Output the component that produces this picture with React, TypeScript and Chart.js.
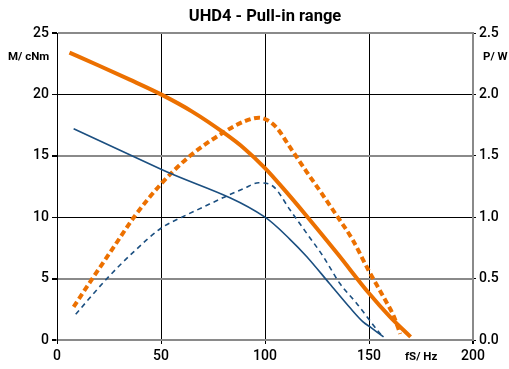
import React, { useEffect, useRef } from "react";
import { Chart, registerables } from "chart.js";

Chart.register(...registerables);

// Torque M (cNm), left axis
const mOrangeHz = [6, 20, 35, 50, 65, 80, 90, 100, 110, 120, 135, 150, 160, 170];
const mOrangeVal = [23.4, 22.35, 21.2, 20.0, 18.6, 16.9, 15.6, 14.0, 12.1, 10.1, 7.0, 3.8, 1.9, 0.25];

const mBlueHz = [8, 50, 100, 112, 120, 131, 141, 147, 151, 157];
const mBlueVal = [17.2, 13.9, 10.0, 8.2, 6.8, 4.6, 2.6, 1.5, 1.0, 0.25];

// Power P (W), right axis
const pOrangeHz = [8, 17, 27, 37, 50, 64, 80, 90, 97, 105, 112, 120, 127, 135, 142, 150, 157, 162, 165];
const pOrangeVal = [0.27, 0.5, 0.75, 1.0, 1.27, 1.5, 1.69, 1.78, 1.81, 1.74, 1.57, 1.37, 1.2, 1.0, 0.82, 0.56, 0.35, 0.19, 0.05];

const pBlueHz = [9, 24, 37, 50, 60, 70, 80, 90, 97, 104, 112, 120, 128, 136, 144, 149, 154, 156];
const pBlueVal = [0.21, 0.5, 0.72, 0.91, 1.0, 1.08, 1.16, 1.235, 1.28, 1.25, 1.06, 0.87, 0.68, 0.46, 0.3, 0.19, 0.08, 0.04];

const xTicks = [0, 50, 100, 150, 200];
const yTicks = [0, 5, 10, 15, 20, 25];
const y2Ticks = [0, 0.5, 1.0, 1.5, 2.0, 2.5];

const TITLE = "UHD4 - Pull-in range";
const Y_TITLE = "M/ cNm";
const Y2_TITLE = "P/ W";
const X_TITLE = "fS/ Hz";

const ORANGE = "#EC7000";
const BLUE = "#1B4F80";
const GRAY = "#8a8a8a";
const FONT = "Roboto";

const zip = (xs: number[], ys: number[]) => xs.map((x, i) => ({ x, y: ys[i] }));

const textPlugin = {
  id: "texts",
  afterDraw(chart: any) {
    const ctx = chart.ctx;
    ctx.save();
    ctx.fillStyle = "#000";
    ctx.textBaseline = "middle";
    ctx.font = `bold 16.5px ${FONT}`;
    ctx.textAlign = "center";
    ctx.fillText(TITLE, 265, 17);
    ctx.font = `bold 11.5px ${FONT}`;
    ctx.textAlign = "left";
    ctx.fillText(Y_TITLE, 8, 57);
    ctx.fillText(Y2_TITLE, 483, 57);
    ctx.fillText(X_TITLE, 405, 357);
    ctx.restore();
  },
};

export default function App() {
  const ref = useRef<HTMLCanvasElement>(null);
  useEffect(() => {
    if (!ref.current) return;
    const tickFont = { family: FONT, size: 14, weight: 500 as any };
    const chart = new Chart(ref.current, {
      type: "line",
      data: {
        datasets: [
          {
            data: zip(pBlueHz, pBlueVal),
            yAxisID: "y2",
            borderColor: BLUE,
            borderWidth: 1.6,
            borderDash: [5, 4],
            pointRadius: 0,
            cubicInterpolationMode: "monotone",
          },
          {
            data: zip(mBlueHz, mBlueVal),
            yAxisID: "y",
            borderColor: BLUE,
            borderWidth: 1.6,
            pointRadius: 0,
            cubicInterpolationMode: "monotone",
          },
          {
            data: zip(pOrangeHz, pOrangeVal),
            yAxisID: "y2",
            borderColor: ORANGE,
            borderWidth: 4,
            borderDash: [6, 3.5],
            pointRadius: 0,
            cubicInterpolationMode: "monotone",
          },
          {
            data: zip(mOrangeHz, mOrangeVal),
            yAxisID: "y",
            borderColor: ORANGE,
            borderWidth: 4,
            pointRadius: 0,
            cubicInterpolationMode: "monotone",
          },
        ],
      },
      options: {
        animation: false,
        responsive: false,
        layout: { padding: { top: 33, left: 0, right: 0, bottom: 0 } },
        plugins: { legend: { display: false }, tooltip: { enabled: false }, title: { display: false } },
        scales: {
          x: {
            type: "linear",
            min: 0,
            max: 200,
            afterBuildTicks: (s: any) => {
              s.ticks = xTicks.map((v) => ({ value: v }));
            },
            afterFit: (s: any) => {
              s.height = 29;
            },
            ticks: { color: "#000", font: tickFont, padding: 4, maxRotation: 0 },
            grid: {
              color: (c: any) => (c.tick && c.tick.value === 200 ? GRAY : "#000"),
              lineWidth: (c: any) => (c.tick && c.tick.value === 200 ? 2 : 1),
              tickColor: "#000",
              tickLength: 4,
            },
            border: { display: true, color: GRAY, width: 2 },
          },
          y: {
            type: "linear",
            position: "left",
            min: 0,
            max: 25,
            afterBuildTicks: (s: any) => {
              s.ticks = yTicks.map((v) => ({ value: v }));
            },
            afterFit: (s: any) => {
              s.width = 57;
            },
            ticks: { color: "#000", font: tickFont, padding: 3 },
            grid: {
              color: (c: any) => (c.tick && c.tick.value % 10 === 0 && c.tick.value !== 0 ? "#000" : GRAY),
              lineWidth: (c: any) => (c.tick && c.tick.value % 10 === 0 && c.tick.value !== 0 ? 1 : 2),
              tickColor: "#000",
              tickLength: 5,
            },
            border: { display: true, color: "#000", width: 1 },
          },
          y2: {
            type: "linear",
            position: "right",
            min: 0,
            max: 2.5,
            afterBuildTicks: (s: any) => {
              s.ticks = y2Ticks.map((v) => ({ value: v }));
            },
            afterFit: (s: any) => {
              s.width = 36;
            },
            ticks: {
              color: "#000",
              font: tickFont,
              padding: 3,
              callback: (v: any) => Number(v).toFixed(1),
            },
            grid: { drawOnChartArea: false, tickColor: "#000", tickLength: 3 },
            border: { display: true, color: GRAY, width: 2 },
          },
        },
      },
      plugins: [textPlugin],
    } as any);
    return () => chart.destroy();
  }, []);
  return (
    <div style={{ position: "absolute", left: 0, top: 0, width: 509, height: 369, background: "#fff" }}>
      <canvas ref={ref} width={509} height={369} style={{ width: 509, height: 369 }} />
    </div>
  );
}
